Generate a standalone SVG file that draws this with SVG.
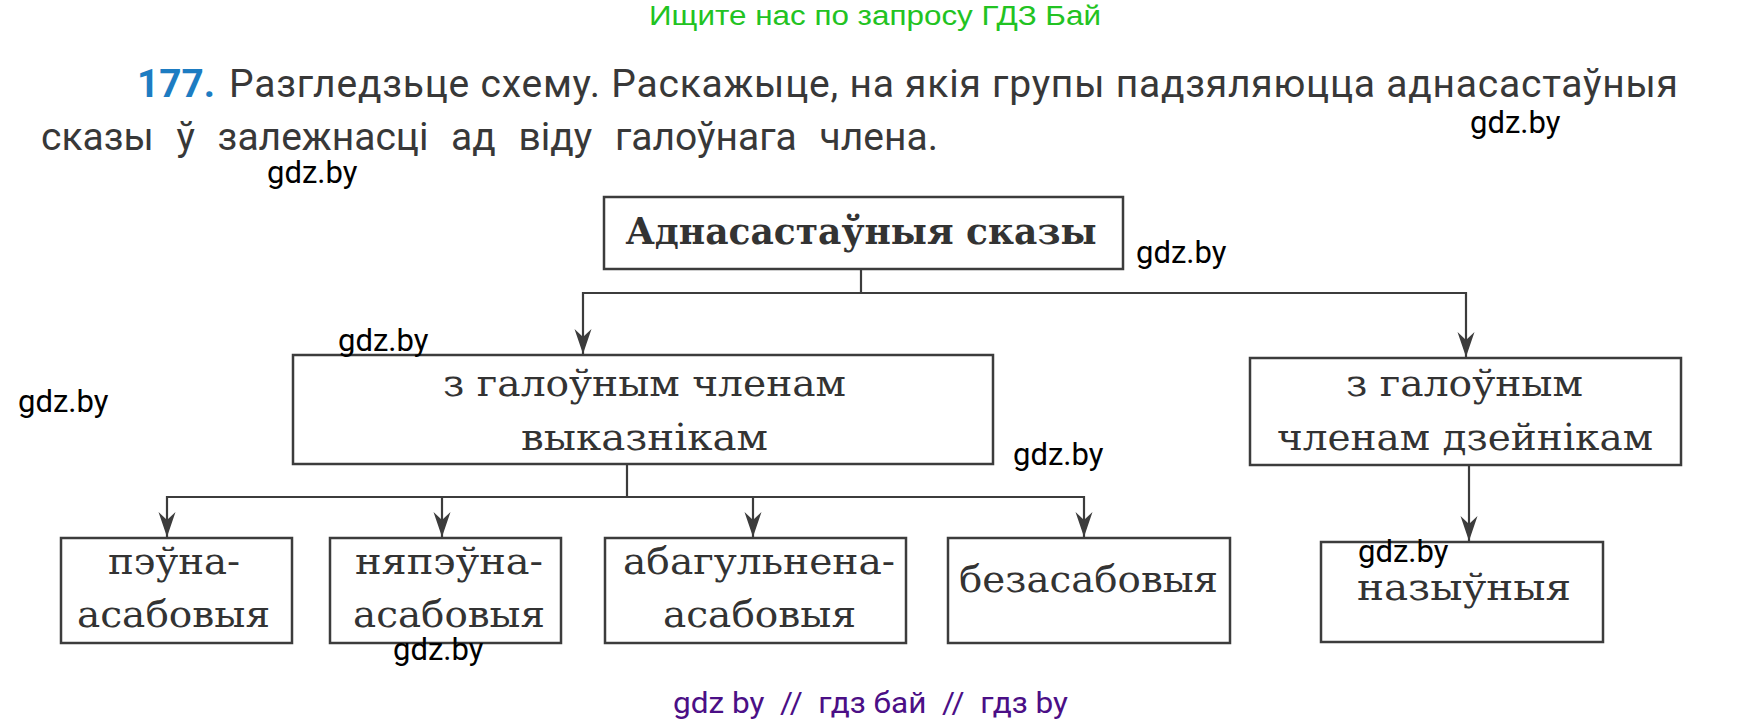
<svg xmlns="http://www.w3.org/2000/svg" width="1745" height="721" viewBox="0 0 1745 721">
<defs>
<style>
.box{fill:#fff;stroke:#3c3c3c;stroke-width:2.5}
.lbl{font-family:"DejaVu Serif","Liberation Serif",serif;font-size:37px;fill:#333;text-anchor:middle}
.ttl{font-family:"DejaVu Serif","Liberation Serif",serif;font-size:38px;font-weight:bold;fill:#333;text-anchor:middle}
.wm{font-family:Roboto,"Liberation Sans",sans-serif;font-size:31px;fill:#000}
.body{font-family:Roboto,"Liberation Sans",sans-serif;font-size:39px;fill:#383838}
.con{fill:none;stroke:#3c3c3c;stroke-width:2.2}
</style>
<marker id="arr" markerUnits="userSpaceOnUse" markerWidth="26" markerHeight="20" viewBox="0 0 26 20" refX="25" refY="10" orient="auto">
<path d="M25,10 L0,1.5 L8,10 L0,18.5 Z" fill="#3c3c3c"/>
</marker>
</defs>
<rect width="1745" height="721" fill="#fff"/>

<text x="875" y="25" font-family="'Liberation Sans Narrow','Liberation Sans',sans-serif" font-size="27" fill="#22c322" text-anchor="middle" textLength="452" lengthAdjust="spacingAndGlyphs">Ищите нас по запросу ГДЗ Бай</text>

<g id="task">
<text x="137" y="97" font-family="Roboto,'Liberation Sans',sans-serif" font-size="39" font-weight="bold" fill="#1d7cc2" textLength="78" lengthAdjust="spacingAndGlyphs">177.</text>
<text class="body" x="229" y="97" textLength="1449" lengthAdjust="spacing">Разгледзьце схему. Раскажыце, на якія групы падзяляюцца аднасастаўныя</text>
<text class="body" x="41" y="150" word-spacing="13">сказы ў залежнасці ад віду галоўнага члена.</text>
</g>

<g id="connectors">
<path class="con" d="M861,269 V293 H583 V354" marker-end="url(#arr)"/>
<path class="con" d="M861,293 H1466 V357" marker-end="url(#arr)"/>
<path class="con" d="M627,464 V497 H167 V537" marker-end="url(#arr)"/>
<path class="con" d="M627,497 H442 V537" marker-end="url(#arr)"/>
<path class="con" d="M627,497 H753 V537" marker-end="url(#arr)"/>
<path class="con" d="M627,497 H1084 V537" marker-end="url(#arr)"/>
<path class="con" d="M1469,465 V541" marker-end="url(#arr)"/>
</g>

<g id="node-root">
<rect class="box" x="604" y="197" width="519" height="72"/>
<text class="ttl" x="861" y="244" textLength="471" lengthAdjust="spacingAndGlyphs">Аднасастаўныя сказы</text>
</g>

<g id="node-predicate">
<rect class="box" x="293" y="355" width="700" height="109"/>
<text class="lbl" x="644.5" y="396" textLength="403" lengthAdjust="spacingAndGlyphs">з галоўным членам</text>
<text class="lbl" x="644.5" y="450" textLength="247" lengthAdjust="spacingAndGlyphs">выказнікам</text>
</g>

<g id="node-subject">
<rect class="box" x="1250" y="358" width="431" height="107"/>
<text class="lbl" x="1464.5" y="396" textLength="237" lengthAdjust="spacingAndGlyphs">з галоўным</text>
<text class="lbl" x="1465" y="450" textLength="376" lengthAdjust="spacingAndGlyphs">членам дзейнікам</text>
</g>

<g id="node-definite">
<rect class="box" x="61" y="538" width="231" height="105"/>
<text class="lbl" x="174" y="574" textLength="132" lengthAdjust="spacingAndGlyphs">пэўна-</text>
<text class="lbl" x="173.5" y="627" textLength="193" lengthAdjust="spacingAndGlyphs">асабовыя</text>
</g>

<g id="node-indefinite">
<rect class="box" x="330" y="538" width="231" height="105"/>
<text class="lbl" x="449" y="574" textLength="188" lengthAdjust="spacingAndGlyphs">няпэўна-</text>
<text class="lbl" x="449" y="627" textLength="192" lengthAdjust="spacingAndGlyphs">асабовыя</text>
</g>

<g id="node-generalized">
<rect class="box" x="605" y="538" width="301" height="105"/>
<text class="lbl" x="759" y="574" textLength="272" lengthAdjust="spacingAndGlyphs">абагульнена-</text>
<text class="lbl" x="759.5" y="627" textLength="193" lengthAdjust="spacingAndGlyphs">асабовыя</text>
</g>

<g id="node-impersonal">
<rect class="box" x="948" y="538" width="282" height="105"/>
<text class="lbl" x="1088.5" y="592" textLength="259" lengthAdjust="spacingAndGlyphs">безасабовыя</text>
</g>

<g id="node-nominative">
<rect class="box" x="1321" y="542" width="282" height="100"/>
<text class="lbl" x="1464" y="600" textLength="214" lengthAdjust="spacingAndGlyphs">назыўныя</text>
</g>

<g id="watermarks">
<text class="wm" x="1470" y="133">gdz.by</text>
<text class="wm" x="267" y="183">gdz.by</text>
<text class="wm" x="1136" y="263">gdz.by</text>
<text class="wm" x="338" y="351">gdz.by</text>
<text class="wm" x="18" y="412">gdz.by</text>
<text class="wm" x="1013" y="465">gdz.by</text>
<text class="wm" x="1358" y="562">gdz.by</text>
<text class="wm" x="393" y="660">gdz.by</text>
</g>

<text x="673" y="713" font-family="Roboto,'Liberation Sans',sans-serif" font-size="30" fill="#4b0f86" textLength="395" lengthAdjust="spacingAndGlyphs" xml:space="preserve">gdz by  //  гдз бай  //  гдз by</text>
</svg>
